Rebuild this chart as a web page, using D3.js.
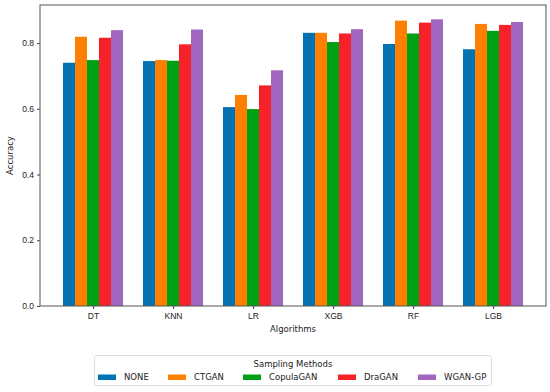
<!DOCTYPE html>
<html>
<head>
<meta charset="utf-8">
<script src="https://cdn.jsdelivr.net/npm/d3@7"></script>
<style>
  body { margin: 0; background: #fff; }
  svg { display: block; font-family: "DejaVu Sans", sans-serif; }
</style>
</head>
<body>
<div id="chart"></div>
<script>
const algorithms = ["DT", "KNN", "LR", "XGB", "RF", "LGB"];
const methods = ["NONE", "CTGAN", "CopulaGAN", "DraGAN", "WGAN-GP"];
const colors = ["#0173b2", "#ff8000", "#00a013", "#f5222a", "#a066c0"];

// accuracy per method, in algorithm order
const noneVals = [0.740, 0.745, 0.605, 0.831, 0.797, 0.781];
const ctganVals = [0.819, 0.748, 0.642, 0.831, 0.868, 0.858];
const copulaVals = [0.748, 0.746, 0.599, 0.803, 0.829, 0.837];
const draganVals = [0.816, 0.796, 0.671, 0.829, 0.862, 0.855];
const wganVals = [0.839, 0.841, 0.717, 0.842, 0.872, 0.864];
const seriesVals = [noneVals, ctganVals, copulaVals, draganVals, wganVals];

const yTicks = [0.0, 0.2, 0.4, 0.6, 0.8];

const width = 550, height = 392;
const margin = {left: 40, right: 4, top: 5, bottom: 86};
const barW = 0.15;
const fs = "8.5px";

const svg = d3.select("#chart").append("svg")
  .attr("width", width)
  .attr("height", height);

// matplotlib-style linear x in group units
const x = d3.scaleLinear()
  .domain([-0.6625, algorithms.length - 1 + 0.6625])
  .range([margin.left, width - margin.right]);

const y = d3.scaleLinear()
  .domain([0, 0.9156])
  .range([height - margin.bottom, margin.top]);

const bars = svg.append("g");
seriesVals.forEach((vals, si) => {
  bars.append("g")
    .attr("fill", colors[si])
    .selectAll("rect")
    .data(vals)
    .join("rect")
    .attr("x", (d, i) => x(i + (si - 2) * barW - barW / 2))
    .attr("width", x(barW) - x(0))
    .attr("y", d => y(d))
    .attr("height", d => y(0) - y(d));
});

const xAxis = svg.append("g")
  .attr("transform", `translate(0,${height - margin.bottom})`)
  .call(d3.axisBottom(x).tickValues(d3.range(algorithms.length)).tickFormat(i => algorithms[i]).tickSize(3).tickSizeOuter(0));

const yAxis = svg.append("g")
  .attr("transform", `translate(${margin.left},0)`)
  .call(d3.axisLeft(y).tickValues(yTicks).tickFormat(d3.format(".1f")).tickSize(3).tickSizeOuter(0));

[xAxis, yAxis].forEach(g => {
  g.select(".domain").remove();
  g.selectAll(".tick line").attr("stroke", "#444");
  g.selectAll(".tick text").attr("fill", "#222").style("font-size", fs);
});
xAxis.selectAll(".tick text").attr("dy", "0.85em");

// frame
svg.append("rect")
  .attr("x", margin.left)
  .attr("y", margin.top)
  .attr("width", width - margin.right - margin.left)
  .attr("height", height - margin.bottom - margin.top)
  .attr("fill", "none")
  .attr("stroke", "#555")
  .attr("stroke-width", 1);

svg.append("text")
  .attr("x", (margin.left + width - margin.right) / 2)
  .attr("y", 332)
  .attr("text-anchor", "middle")
  .style("font-size", fs)
  .attr("fill", "#222")
  .text("Algorithms");

svg.append("text")
  .attr("transform", `translate(13,${(margin.top + height - margin.bottom) / 2}) rotate(-90)`)
  .attr("text-anchor", "middle")
  .style("font-size", fs)
  .attr("fill", "#222")
  .text("Accuracy");

// legend
const legend = svg.append("g");
legend.append("rect")
  .attr("x", 94.5).attr("y", 355.5)
  .attr("width", 397).attr("height", 30)
  .attr("rx", 2)
  .attr("fill", "#fff")
  .attr("stroke", "#ddd");

legend.append("text")
  .attr("x", 293).attr("y", 367)
  .attr("text-anchor", "middle")
  .style("font-size", fs)
  .attr("fill", "#222")
  .text("Sampling Methods");

const legendX = [98, 168, 243, 338, 418];
methods.forEach((m, i) => {
  const item = legend.append("g").attr("transform", `translate(${legendX[i]},377)`);
  item.append("rect")
    .attr("x", 0).attr("y", -2.5)
    .attr("width", 18).attr("height", 5.5)
    .attr("fill", colors[i]);
  item.append("text")
    .attr("x", 26).attr("y", 3)
    .style("font-size", fs)
    .attr("fill", "#222")
    .text(m);
});
</script>
</body>
</html>
